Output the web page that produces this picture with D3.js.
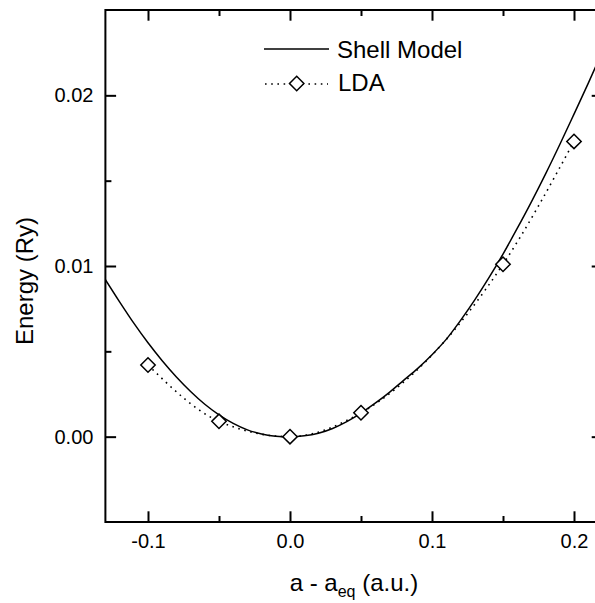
<!DOCTYPE html>
<html>
<head>
<meta charset="utf-8">
<script src="https://cdn.jsdelivr.net/npm/d3@7"></script>
<style>
  body { margin: 0; background: #fff; }
  svg { display: block; }
  text { font-family: "Liberation Sans", Arial, Helvetica, sans-serif; fill: #000; }
</style>
</head>
<body>
<div id="chart"></div>
<script>
// Shell model curve
const shellA = [-0.13, -0.12, -0.11, -0.1, -0.09, -0.08, -0.07, -0.06, -0.05, -0.04, -0.03, -0.02, -0.01, 0,
    0.01, 0.02, 0.03, 0.04, 0.05, 0.06, 0.07, 0.08, 0.09, 0.1, 0.11, 0.12, 0.13, 0.14, 0.15, 0.16, 0.17, 0.18, 0.19, 0.2, 0.21, 0.22];
const shellE = [0.0092, 0.0079, 0.00665, 0.0055, 0.00445, 0.0035, 0.00265, 0.0019, 0.00128, 0.00078, 0.0004, 0.00016, 0.00003, 0,
    0.00005, 0.0002, 0.00048, 0.00088, 0.00138, 0.00196, 0.0026, 0.0033, 0.0040, 0.0048, 0.0057, 0.0068, 0.0080, 0.0093,
    0.0107, 0.0122, 0.01376, 0.0154, 0.01712, 0.0189, 0.0207, 0.02258];

// LDA points
const ldaA = [-0.1, -0.05, 0, 0.05, 0.15, 0.2];
const ldaE = [0.0042, 0.0009, 0, 0.0014, 0.0101, 0.0173];

// ticks
const xMajor = [-0.1, 0, 0.1, 0.2];
const xTickLabels = ["-0.1", "0.0", "0.1", "0.2"];
const xMinor = [-0.05, 0.05, 0.15];
const yMajor = [0, 0.01, 0.02];
const yTickLabels = ["0.00", "0.01", "0.02"];
const yMinor = [0.005, 0.015];

const seriesNames = ["Shell Model", "LDA"];

const W = 595, H = 603;
const margin = {top: 10, right: -7.4, bottom: 81, left: 105.4},
    width = W - margin.left - margin.right,
    height = H - margin.top - margin.bottom;

const x = d3.scaleLinear().domain([-0.13, 0.22]).range([0, width]);
const y = d3.scaleLinear().domain([-0.005, 0.025]).range([height, 0]);

const svg = d3.select("#chart")
    .append("svg")
    .attr("width", W)
    .attr("height", H);

const g = svg.append("g")
    .attr("transform", `translate(${margin.left},${margin.top})`);

g.append("clipPath").attr("id", "plotClip")
    .append("rect").attr("width", width).attr("height", height);

const tickFont = 20;
const titleFont = 24;

function addAxis(axisFn, scale, values, labels, size, transform, cls) {
    const ax = g.append("g")
        .attr("class", cls)
        .attr("transform", transform)
        .call(axisFn(scale)
            .tickValues(values)
            .tickSizeInner(-size)
            .tickSizeOuter(0)
            .tickPadding(labels ? 12 : 0)
            .tickFormat((d, i) => labels ? labels[i] : ""));
    ax.select(".domain").remove();
    ax.selectAll(".tick line").attr("stroke", "#000").attr("stroke-width", 2);
    ax.selectAll(".tick text")
        .style("font-size", tickFont + "px")
        .style("font-family", '"Liberation Sans", Arial, sans-serif')
        .attr("fill", "#000");
    return ax;
}

addAxis(d3.axisBottom, x, xMajor, xTickLabels, 10.7, `translate(0,${height})`, "xAxis");
addAxis(d3.axisBottom, x, xMinor, null, 6, `translate(0,${height})`, "xMinor");
addAxis(d3.axisTop, x, xMajor, null, 10.7, "translate(0,0)", "xTop");
addAxis(d3.axisTop, x, xMinor, null, 6, "translate(0,0)", "xTopMinor");
addAxis(d3.axisLeft, y, yMajor, yTickLabels, 10.7, "translate(0,0)", "yAxis");
addAxis(d3.axisLeft, y, yMinor, null, 6, "translate(0,0)", "yMinor");
addAxis(d3.axisRight, y, yMajor, null, 10.7, `translate(${width},0)`, "yRight");
addAxis(d3.axisRight, y, yMinor, null, 6, `translate(${width},0)`, "yRightMinor");

g.selectAll(".xAxis .tick text").attr("dy", "0.71em");

// frame
g.append("rect")
    .attr("width", width)
    .attr("height", height)
    .attr("fill", "none")
    .attr("stroke", "#000")
    .attr("stroke-width", 2);

// curves
const plot = g.append("g").attr("clip-path", "url(#plotClip)");

const shellData = shellA.map((a, i) => ({a: a, e: shellE[i]}));
const ldaData = ldaA.map((a, i) => ({a: a, e: ldaE[i]}));

plot.append("path")
    .datum(shellData)
    .attr("fill", "none")
    .attr("stroke", "#000")
    .attr("stroke-width", 1.5)
    .attr("d", d3.line()
        .x(d => x(d.a))
        .y(d => y(d.e))
        .curve(d3.curveMonotoneX));

plot.append("path")
    .datum(ldaData)
    .attr("fill", "none")
    .attr("stroke", "#000")
    .attr("stroke-width", 1.6)
    .attr("stroke-dasharray", "1.6,4.6")
    .attr("d", d3.line()
        .x(d => x(d.a))
        .y(d => y(d.e))
        .curve(d3.curveMonotoneX));

const r = 7.2;
function diamond(cx, cy) {
    return `M${cx},${cy - r}L${cx + r},${cy}L${cx},${cy + r}L${cx - r},${cy}Z`;
}

g.selectAll(".lda")
    .data(ldaData)
    .enter()
    .append("path")
    .attr("class", "lda")
    .attr("d", d => diamond(x(d.a), y(d.e)))
    .attr("fill", "#fff")
    .attr("stroke", "#000")
    .attr("stroke-width", 1.5);

// legend
const legend = svg.append("g").attr("transform", "translate(264,0)");
legend.append("line")
    .attr("x1", 0).attr("x2", 65).attr("y1", 49).attr("y2", 49)
    .attr("stroke", "#000").attr("stroke-width", 1.5);
legend.append("text")
    .attr("x", 73).attr("y", 58)
    .style("font-size", titleFont + "px")
    .text(seriesNames[0]);

legend.append("line")
    .attr("x1", 1).attr("x2", 64).attr("y1", 84).attr("y2", 84)
    .attr("stroke", "#000").attr("stroke-width", 1.6)
    .attr("stroke-dasharray", "1.6,4.6");
legend.append("path")
    .attr("d", diamond(32.7, 83.5))
    .attr("fill", "#fff")
    .attr("stroke", "#000")
    .attr("stroke-width", 1.5);
legend.append("text")
    .attr("x", 74).attr("y", 91)
    .style("font-size", titleFont + "px")
    .text(seriesNames[1]);

// x-axis title
const xt = svg.append("text")
    .attr("x", margin.left + width / 2)
    .attr("y", 591)
    .attr("text-anchor", "middle")
    .style("font-size", titleFont + "px");
xt.append("tspan").text("a - a");
xt.append("tspan").attr("dy", 6).style("font-size", "16px").text("eq");
xt.append("tspan").attr("dy", -6).text(" (a.u.)");

// y-axis title
svg.append("text")
    .attr("transform", "rotate(-90)")
    .attr("x", -281)
    .attr("y", 33)
    .attr("text-anchor", "middle")
    .style("font-size", titleFont + "px")
    .text("Energy (Ry)");
</script>
</body>
</html>
